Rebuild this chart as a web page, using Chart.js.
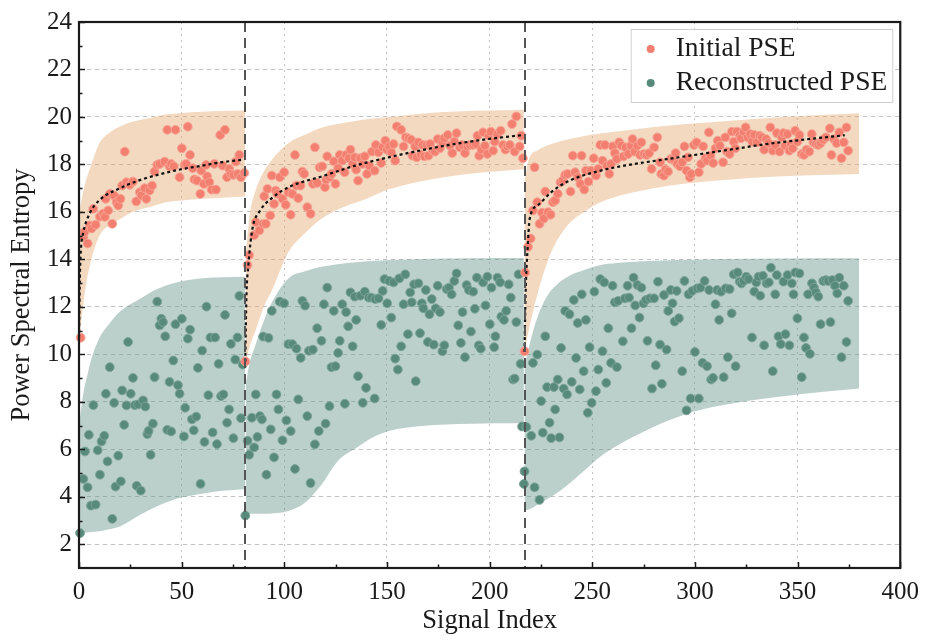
<!DOCTYPE html>
<html><head><meta charset="utf-8">
<script src="https://cdn.jsdelivr.net/npm/chart.js@4.4.1/dist/chart.umd.min.js"></script>
<style>html,body{margin:0;padding:0;background:#fff}#wrap{width:928px;height:640px}</style>
</head><body><div id="wrap"><canvas id="c" width="928" height="640"></canvas></div>
<script>
const FONT = "'Liberation Serif','Times New Roman',serif";
const xTicks = [0,50,100,150,200,250,300,350,400];
const yTicks = [2,4,6,8,10,12,14,16,18,20,22,24];
const xMinor = [25,75,125,175,225,275,325,375];
const yMinor = [3,5,7,9,11,13,15,17,19,21,23];
const separators = [81, 217];
const seriesNames = ['Initial PSE','Reconstructed PSE'];
const xTitle = 'Signal Index';
const yTitle = 'Power Spectral Entropy';

// [signal index, PSE]
const initialSeg1 = [[0.8,10.7],[2.1,14.95],[2.6,15.15],[4.2,14.67],[5.3,15.43],[6.1,15.3],[6.9,16.13],[8.1,15.46],[10.2,15.8],[11.8,15.93],[12.6,15.79],[13,16.55],[14.2,16.06],[15,16.76],[16.2,15.5],[17.1,16.69],[18.3,16.41],[19.1,16.27],[20.2,16.55],[21,17.11],[22.3,18.54],[23.1,17.25],[24.7,17.14],[26.3,17.28],[27.9,16.44],[29.6,16.83],[30.4,16.69],[32,17.0],[32.8,16.55],[34.4,16.9],[35.6,17.11],[36.8,17.7],[38.1,17.98],[39.3,18.02],[41.7,18.12],[43,19.46],[44.1,17.92],[44.9,18.02],[46.2,17.92],[47,19.46],[49,17.46],[50.1,18.68],[51.4,17.98],[52.2,18.02],[53,19.59],[54.1,18.4],[55.4,17.84],[56.2,17.37],[57.5,17.32],[59.1,16.76],[59.5,17.74],[60.8,17.18],[61.9,17.98],[62.4,17.5],[63.5,17.25],[64.6,16.94],[65.9,18.02],[66.7,16.94],[68.8,19.24],[70,17.95],[71.1,19.46],[72.1,17.46],[73.2,17.81],[74,17.6],[75.3,17.56],[76.4,18.12],[77.3,17.6],[78.1,18.4],[78.9,17.46],[80.5,17.64]];
const initialSeg2 = [[81,9.7],[82.1,13.76],[82.9,14.18],[85.3,15.02],[86.1,15.57],[87.8,15.22],[89.7,15.5],[90.2,16.66],[91,15.5],[91.8,16.97],[93.1,15.85],[93.9,17.53],[95,16.34],[95.8,16.9],[96.6,16.76],[97.8,17.46],[99.1,16.55],[99.9,17.67],[100.7,16.3],[102,16.83],[103.1,15.88],[103.9,16.76],[105.2,18.4],[105.9,17.11],[106.8,16.58],[107.9,17.11],[108.8,17.7],[109.7,17.6],[111.2,16.2],[112.8,15.92],[113.9,17.18],[114.9,18.72],[116,17.22],[117.2,17.88],[118.5,17.92],[119.8,17.04],[120.4,17.36],[120.9,18.34],[122,17.46],[123,17.6],[124.1,18.13],[124.9,17.18],[126.2,17.84],[127,18.4],[128.2,18.16],[129.4,17.67],[130.1,18.4],[131.4,18.26],[132.2,18.62],[133.3,18.02],[134.3,18.3],[135,17.78],[135.9,17.32],[137,18.26],[138.2,18.02],[139.2,18.34],[140.3,17.6],[141.4,17.95],[142.7,18.54],[144,17.74],[144.6,18.82],[145.9,18.51],[147.2,18.06],[147.9,18.72],[149.2,19.0],[150,18.62],[151.1,18.76],[152.1,18.51],[153.2,18.86],[154,18.16],[154.8,19.6],[156.9,19.46],[158.1,18.76],[159.2,19.14],[160.5,19.1],[161.8,19.04],[162.4,18.37],[163.7,18.76],[164.5,18.3],[165.3,18.93],[166.6,18.4],[167.3,18.82],[168.2,18.34],[169.4,18.82],[170.2,18.37],[171,18.86],[172.3,18.58],[173.4,18.54],[174.7,19.07],[175.8,18.68],[177,18.93],[177.9,19.1],[179.6,19.24],[180.7,18.79],[181.8,18.48],[182.8,18.96],[183.9,19.32],[185.5,18.72],[186.7,18.82],[188,18.48],[189.2,18.76],[190.4,18.82],[192,18.82],[193.1,18.86],[194.1,19.21],[194.9,18.37],[196,18.62],[196.8,19.35],[197.7,18.79],[198.9,18.44],[199.6,19.21],[200.6,19.38],[201.7,18.58],[202.5,18.96],[203.8,19.28],[205.4,19.42],[206.5,18.82],[207.7,18.62],[208.6,18.76],[209.8,18.82],[210.9,19.7],[212.2,18.54],[213,20.02],[214.6,18.76],[215.4,19.21],[216.2,18.26]];
const initialSeg3 = [[217,10.13],[217.3,13.45],[218.7,14.53],[220,14.88],[221.1,16.06],[221.9,17.88],[223.2,16.41],[224.3,15.5],[225.5,15.97],[226.4,15.72],[227.1,16.86],[228.4,15.99],[229.7,15.88],[230.8,16.41],[231.9,16.48],[233.2,16.76],[234.5,17.25],[235.6,17.32],[236.8,17.56],[238,17.6],[239.4,16.86],[240.5,18.37],[241.6,17.67],[242.9,17.46],[244.2,17.18],[244.8,18.37],[246.1,16.94],[246.9,17.74],[248.1,17.28],[249.4,17.74],[250.7,18.26],[251.8,17.53],[252.9,17.81],[253.9,18.82],[255,18.16],[256.2,18.82],[257.1,17.95],[258.3,17.6],[259.1,18.02],[260,18.76],[261,18.48],[262,18.23],[263.1,18.93],[264.2,18.79],[265.2,18.34],[266.3,18.72],[267.5,18.44],[268.8,18.79],[269.6,19.07],[270.7,18.54],[272,18.79],[273.3,18.4],[273.9,18.93],[275.2,18.44],[276.5,18.4],[277.7,18.48],[278.9,17.81],[280.1,18.72],[281.7,19.14],[283,18.09],[283.6,17.6],[284.9,17.53],[285.7,17.78],[286.9,17.7],[288.2,18.23],[289.5,18.23],[290.6,18.48],[291.4,18.02],[292.7,17.92],[293.8,18.09],[294.9,18.76],[295.9,17.74],[296.6,18.3],[297.5,17.46],[298.2,17.6],[299.5,18.82],[300.8,18.93],[301.9,17.67],[303,18.02],[304,18.76],[305.1,18.26],[305.9,18.16],[306.8,19.35],[307.6,18.37],[308.9,18.06],[310,18.68],[311.1,19.0],[312.1,18.79],[313.7,18.09],[314.8,19.14],[315.6,18.54],[316.9,18.44],[318,19.38],[318.9,18.96],[319.7,18.68],[320.5,19.38],[321.8,19.21],[322.4,19.1],[323.7,19.38],[324.7,19.56],[325.7,19.14],[326.9,19.28],[327.9,18.96],[328.9,19.24],[330.2,18.93],[331.5,19.21],[332.6,19.14],[333.7,18.62],[334.7,19.07],[335.8,18.9],[336.7,19.56],[337.9,18.58],[339.1,18.82],[339.9,19.32],[341.2,18.54],[342.3,19.14],[343.1,19.32],[343.9,18.79],[345.1,19.28],[346,18.58],[346.7,18.86],[347.6,18.68],[348.8,19.42],[349.9,18.96],[350.9,19.24],[352,18.44],[353.1,18.4],[354.4,18.62],[355.7,18.54],[356.9,19.28],[357.7,18.93],[358.9,18.86],[360.1,18.82],[361.2,18.9],[362.5,19.04],[363.8,19.14],[365.7,19.52],[366.5,18.4],[367.7,19.07],[369,18.9],[370.3,19.35],[371.4,18.26],[372.5,18.93],[373.8,19.56],[374.6,18.58]];

const reconSeg1 = [[0.5,2.47],[2.1,4.75],[2.9,5.91],[4.2,4.4],[4.8,6.61],[5.8,3.63],[7,7.86],[8.1,3.67],[9.1,5.96],[10.2,4.93],[11,6.33],[12.3,6.57],[13.1,8.34],[13.9,5.49],[15,9.46],[16.2,3.07],[17.1,7.96],[17.8,4.43],[19.1,5.73],[20.4,4.65],[21,8.48],[22,7.03],[23.1,7.85],[23.9,10.52],[25.2,8.34],[26.3,9.01],[27.2,7.86],[28.1,4.46],[28.8,7.89],[30.1,4.26],[31.2,8.06],[32.3,7.8],[33.3,6.64],[33.9,6.78],[34.9,5.77],[36,7.08],[36.8,9.04],[38.1,12.22],[39.3,11.22],[40.1,11.5],[40.9,11.36],[42,10.76],[43,6.82],[44.1,8.84],[44.9,6.75],[45.9,9.74],[47,11.27],[48.2,8.7],[49,8.34],[50.1,11.5],[51.1,6.54],[51.7,7.75],[53,10.66],[54.1,11.04],[55,7.26],[55.9,6.8],[57.1,7.38],[57.9,9.43],[59.2,4.54],[60,10.16],[61.1,6.31],[62.1,12.01],[63,8.28],[64,10.71],[65.1,6.71],[66.3,10.71],[67.2,6.22],[68,9.6],[69.2,8.24],[70.3,8.31],[71.1,11.66],[72.1,7.12],[73.1,7.68],[74,10.44],[75.2,6.47],[76.1,9.78],[77.2,10.71],[78.1,12.46],[78.9,7.31],[79.7,9.57]];
const reconSeg2 = [[81,3.21],[82.1,6.36],[82.9,5.77],[84.2,7.33],[85.3,6.08],[86.1,8.31],[86.9,6.52],[88.1,7.4],[89.1,7.26],[89.7,10.75],[91.3,4.93],[92.3,10.69],[93.4,6.84],[93.9,11.83],[95,5.66],[96.2,8.31],[97.1,7.68],[97.8,12.22],[99.1,6.38],[99.9,12.15],[101,7.22],[102,10.43],[103.1,6.77],[103.9,10.43],[105.2,5.17],[105.9,10.24],[106.8,8.1],[108,9.85],[108.8,12.25],[110.1,12.05],[111.2,7.4],[112,10.15],[112.8,4.58],[113.9,10.2],[114.9,6.21],[116,11.1],[116.8,6.77],[118.1,10.57],[119.3,12.11],[120.1,7.08],[120.9,12.81],[122,7.82],[123,9.46],[124.1,11.83],[124.9,9.5],[126.2,10.06],[127,10.57],[128.2,12.11],[129.5,7.92],[130.1,11.78],[131.1,11.18],[132.2,12.61],[133.3,10.34],[134.3,12.43],[135,11.45],[135.9,9.08],[137,12.47],[138.2,7.96],[139.2,12.64],[139.8,8.59],[141.1,12.39],[142.4,12.39],[144,8.14],[144.3,12.33],[145.9,12.36],[147.2,11.24],[147.9,12.67],[148.8,13.17],[150.1,12.15],[151.1,13.09],[152.1,11.55],[153.2,13.03],[154,9.82],[155.3,9.36],[156,13.2],[156.9,10.34],[158.1,12.11],[158.9,13.37],[160.2,10.85],[161.3,12.61],[162.1,12.19],[163.2,12.95],[164,8.87],[165.3,12.99],[166.1,10.89],[167,12.15],[167.7,11.94],[168.9,12.71],[169.9,10.52],[170.7,11.69],[171.8,12.33],[172.8,10.41],[173.7,11.94],[174.7,12.89],[175.8,11.78],[177,10.13],[177.9,10.38],[179.1,12.75],[180.2,12.81],[181.5,12.53],[182.8,13.09],[183.9,13.41],[184.7,11.22],[186,10.48],[186.8,11.78],[188,9.88],[188.8,12.92],[189.9,12.71],[190.9,10.96],[192,12.64],[192.8,11.92],[193.8,13.23],[194.7,10.38],[195.7,10.24],[196.8,13.03],[198,12.06],[198.9,13.27],[200.1,11.27],[200.9,12.81],[202.2,10.3],[202.8,10.76],[203.8,13.23],[205.1,13.03],[205.7,11.59],[207,11.45],[208.1,11.83],[209.3,12.95],[210.3,12.39],[211.4,8.94],[212.2,8.98],[213,11.36],[214.1,13.37],[215.1,9.6],[215.8,6.96]];
const reconSeg3 = [[216.7,4.54],[217,5.07],[217.9,6.94],[220.3,6.57],[221.1,9.64],[221.9,4.4],[223.2,9.99],[224.3,3.87],[225.1,8.03],[225.9,6.7],[227.1,10.76],[228,8.62],[229.2,7.12],[230,6.47],[231.3,8.62],[231.9,7.68],[233.2,8.94],[234,6.5],[234.8,10.27],[236.1,8.56],[236.8,11.83],[237.7,8.31],[238.9,11.69],[240,8.84],[241,12.29],[242.1,9.85],[242.9,11.32],[243.9,8.52],[244.9,12.53],[245.8,9.29],[246.9,11.45],[247.8,7.54],[248.7,10.3],[249.7,7.96],[251,12.64],[251.8,8.45],[252.9,9.36],[253.9,13.17],[255,10.13],[255.8,13.03],[256.8,8.8],[257.8,11.1],[259.1,9.64],[259.9,12.89],[261,12.19],[262,9.46],[262.6,12.25],[264.9,10.55],[265.9,12.36],[267.2,12.89],[267.9,12.39],[269.1,11.1],[270.1,13.23],[270.9,12.06],[272,12.92],[273,11.55],[273.9,12.81],[274.9,12.15],[276.1,12.29],[276.9,10.57],[278.1,12.36],[279.1,8.56],[280.1,12.36],[280.9,9.54],[282,13.06],[283,10.41],[283.9,8.76],[284.9,12.5],[286.2,10.2],[287,11.83],[288.2,12.71],[289.1,12.15],[290.1,11.38],[291.1,12.67],[292.2,11.52],[293.8,9.29],[294.9,13.09],[295.9,7.64],[296.9,12.53],[297.9,8.14],[298.7,12.67],[300,10.1],[301.1,12.78],[301.9,8.14],[302.7,12.81],[303.7,9.64],[304.7,13.09],[305.9,9.5],[306.9,12.71],[307.9,8.94],[308.8,9.01],[310,12.11],[310.8,12.71],[311.8,11.45],[312.7,12.64],[314,9.04],[315,12.78],[316,9.88],[316.9,12.75],[317.9,11.73],[318.9,13.37],[319.8,9.5],[320.8,13.45],[321.8,13.06],[322.7,12.99],[323.7,13.09],[325,13.27],[326.1,13.17],[327.8,10.71],[328.9,12.64],[329.9,13.03],[331,13.27],[331.8,12.47],[333.1,13.31],[333.7,10.38],[334.9,12.99],[336,13.03],[337,13.65],[337.9,9.29],[339.1,12.53],[339.9,13.34],[340.7,10.76],[341.8,10.43],[343.1,13.06],[344.1,10.85],[345.1,13.34],[346,10.38],[347.2,12.99],[348,12.53],[348.9,13.45],[349.9,11.52],[350.9,13.41],[352,9.04],[353.1,10.71],[354.1,10.27],[355.1,12.53],[356,10.02],[357,12.99],[358,12.81],[358.9,12.61],[360.1,12.43],[361.2,11.27],[362.5,13.09],[363.8,13.13],[364.9,13.09],[366,11.36],[367,13.13],[368.2,12.89],[369.3,12.57],[370.3,13.23],[371.4,9.88],[372.5,12.89],[373.8,10.52],[374.6,12.25]];

// fitted trend (dotted), per segment
const trend1X = [0,0.5,1,2,5,10,20,30,40,50,60,70,80];
const trend1Y = [10.7,13.5,14.5,15.1,15.9,16.5,17.0,17.35,17.6,17.8,17.95,18.1,18.2];
const trend2X = [81,81.5,82.5,84.5,87.8,94.2,102.3,118.4,134.6,150.8,166.9,183,199.3,215.4];
const trend2Y = [9.7,12.3,13.76,15.3,16.0,16.6,17.05,17.5,17.95,18.3,18.6,18.86,19.07,19.23];
const trend3X = [217,217.5,218.5,219.5,223.5,230,238,254,270.6,286.8,302.9,319,335,351.4,373];
const trend3Y = [10.1,12.5,14.46,15.7,16.28,16.83,17.28,17.74,18.02,18.23,18.44,18.65,18.86,19.03,19.23];

// Initial PSE envelope
const bandI1X = [0,1,3,6,10,15,20,26,34,42,50,60,70,81];
const bandI1Hi = [15.8,16.4,17.2,18.0,18.9,19.35,19.6,19.8,19.95,20.1,20.17,20.22,20.25,20.27];
const bandI1Lo = [10.6,11.3,12.7,14.0,15.0,15.45,15.7,16.0,16.2,16.4,16.48,16.55,16.6,16.65];
const bandI2X = [81.3,83,86,90,94,102,110,118,126,140,151,172,195,216.7];
const bandI2Hi = [14.3,15.8,16.9,17.7,18.2,18.9,19.25,19.55,19.7,19.9,20.0,20.18,20.26,20.3];
const bandI2Lo = [9.7,10.3,11.0,12.0,12.7,14.3,15.1,15.7,16.1,16.55,16.95,17.38,17.65,17.8];
const bandI3X = [217,219,223.5,230,238,246,254,278,311,343,380];
const bandI3Hi = [17.3,18.2,18.6,18.86,19.05,19.2,19.3,19.56,19.8,20.0,20.16];
const bandI3Lo = [10.1,11.0,12.6,14.3,15.44,16.0,16.41,16.97,17.32,17.5,17.6];
// Reconstructed PSE envelope
const bandR1X = [0,2,4,6,10,14,20,30,38,46,55,63,70,81];
const bandR1Hi = [7.0,8.3,9.1,9.8,10.7,11.2,11.8,12.35,12.75,13.0,13.15,13.23,13.25,13.27];
const bandR1Lo = [2.45,2.47,2.5,2.52,2.55,2.62,2.75,3.25,3.6,3.88,4.05,4.17,4.25,4.33];
const bandR2X = [81.3,83,86,90,94,102,110,118,126,135,143,151,167,191,216.7];
const bandR2Hi = [8.8,9.6,10.4,11.4,12.2,13.2,13.5,13.69,13.8,13.88,13.93,13.97,14.02,14.05,14.06];
const bandR2Lo = [3.28,3.28,3.28,3.29,3.3,3.4,3.75,4.5,5.5,6.05,6.5,6.77,6.98,7.08,7.1];
const bandR3X = [217,220,223,227,230,238,246,254,262,279,295,311,343,380];
const bandR3Hi = [9.5,10.6,11.5,12.3,12.7,13.27,13.55,13.76,13.85,13.93,13.98,14.02,14.04,14.05];
const bandR3Lo = [3.42,3.5,3.65,3.85,4.0,4.5,5.1,5.7,6.15,6.91,7.47,7.82,8.24,8.56];

const COL_INIT = 'rgb(242,127,111)';
const COL_INIT_EDGE = 'rgb(248,165,150)';
const COL_REC = 'rgb(87,138,122)';
const COL_REC_EDGE = 'rgb(125,165,152)';
const BAND_INIT = 'rgba(228,171,115,0.45)';
const BAND_REC = 'rgba(106,151,139,0.45)';

const toPts = a => a.map(p => ({x: p[0], y: p[1]}));
const zip = (xs, ys) => xs.map((x, i) => ({x, y: ys[i]}));

const datasets = [];
datasets.push({type:'scatter', label: seriesNames[0], data: toPts([...initialSeg1, ...initialSeg2, ...initialSeg3]),
  backgroundColor: COL_INIT, borderColor: COL_INIT_EDGE, borderWidth: 1, pointRadius: 4.4, order: 1, clip: false});
datasets.push({type:'scatter', label: seriesNames[1], data: toPts([...reconSeg1, ...reconSeg2, ...reconSeg3]),
  backgroundColor: COL_REC, borderColor: COL_REC_EDGE, borderWidth: 1, pointRadius: 4.4, order: 1, clip: false});
[[trend1X,trend1Y],[trend2X,trend2Y],[trend3X,trend3Y]].forEach(([xs,ys]) => {
  datasets.push({type:'line', label:'trend', data: zip(xs,ys), borderColor:'#111', borderWidth:2.2, borderDash:[3,3],
    pointRadius:0, fill:false, cubicInterpolationMode:'monotone', order:0});
});
function addBand(xs, hi, lo, color, order){
  const loIdx = datasets.length + 1;
  datasets.push({type:'line', label:'band', data: zip(xs,hi), borderWidth:0, borderColor:'rgba(0,0,0,0)', backgroundColor: color,
    pointRadius:0, fill: loIdx, cubicInterpolationMode:'monotone', order});
  datasets.push({type:'line', label:'band', data: zip(xs,lo), borderWidth:0, borderColor:'rgba(0,0,0,0)',
    pointRadius:0, fill:false, cubicInterpolationMode:'monotone', order});
}
addBand(bandI1X, bandI1Hi, bandI1Lo, BAND_INIT, 2);
addBand(bandI2X, bandI2Hi, bandI2Lo, BAND_INIT, 2);
addBand(bandI3X, bandI3Hi, bandI3Lo, BAND_INIT, 2);
addBand(bandR1X, bandR1Hi, bandR1Lo, BAND_REC, 3);
addBand(bandR2X, bandR2Hi, bandR2Lo, BAND_REC, 3);
addBand(bandR3X, bandR3Hi, bandR3Lo, BAND_REC, 3);

const decor = {
  id: 'decor',
  beforeDraw(chart){
    const {ctx, width, height} = chart;
    ctx.save(); ctx.fillStyle = '#fff'; ctx.fillRect(0,0,width,height); ctx.restore();
  },
  afterDatasetsDraw(chart){
    const {ctx, chartArea: a, scales: {x, y}} = chart;
    ctx.save();
    ctx.strokeStyle = '#555'; ctx.lineWidth = 2; ctx.setLineDash([10,6]);
    separators.forEach(v => {
      const px = Math.round(x.getPixelForValue(v));
      ctx.beginPath(); ctx.moveTo(px, a.top); ctx.lineTo(px, a.bottom); ctx.stroke();
    });
    ctx.setLineDash([]);
    ctx.strokeStyle = '#1a1a1a'; ctx.lineWidth = 1.5;
    const tickX = (vals, len) => vals.forEach(v => { const px = Math.round(x.getPixelForValue(v)) + 0.5;
      ctx.beginPath(); ctx.moveTo(px, a.bottom); ctx.lineTo(px, a.bottom - len); ctx.stroke(); });
    const tickY = (vals, len) => vals.forEach(v => { const py = Math.round(y.getPixelForValue(v)) + 0.5;
      ctx.beginPath(); ctx.moveTo(a.left, py); ctx.lineTo(a.left + len, py); ctx.stroke(); });
    tickX(xTicks, 6); tickX(xMinor, 3.5); tickY(yTicks, 6); tickY(yMinor, 3.5);
    ctx.lineWidth = 2.2;
    ctx.strokeRect(a.left, a.top, a.right - a.left, a.bottom - a.top);
    ctx.restore();
  },
  afterDraw(chart){
    const {ctx, chartArea: a} = chart;
    ctx.save();
    ctx.font = '27.5px ' + FONT;
    const tw = Math.max(...seriesNames.map(s => ctx.measureText(s).width));
    const w = 45 + tw + 6, h = 74;
    const left = a.right - 7 - w, top = a.top + 7;
    ctx.fillStyle = '#fff'; ctx.fillRect(left, top, w, h);
    ctx.strokeStyle = '#cfcfcf'; ctx.lineWidth = 1; ctx.strokeRect(left + 0.5, top + 0.5, w - 1, h - 1);
    const cols = [COL_INIT, COL_REC];
    seriesNames.forEach((s, i) => {
      const cy = top + 20 + i * 34;
      ctx.beginPath(); ctx.arc(left + 20, cy, 4, 0, Math.PI * 2); ctx.fillStyle = cols[i]; ctx.fill();
      ctx.fillStyle = '#1a1a1a'; ctx.textBaseline = 'middle'; ctx.textAlign = 'left';
      ctx.fillText(s, left + 45, cy);
    });
    ctx.restore();
  }
};

new Chart(document.getElementById('c'), {
  type: 'scatter',
  data: { datasets },
  options: {
    responsive: false, animation: false, devicePixelRatio: 1,
    layout: { padding: { top: 19, right: 24, bottom: 0, left: 0 } },
    plugins: { legend: { display: false }, tooltip: { enabled: false } },
    scales: {
      x: {
        type: 'linear', min: 0, max: 400,
        afterBuildTicks: s => { s.ticks = xTicks.map(v => ({value: v})); },
        afterFit: s => { s.height = 72; },
        ticks: { font: { family: FONT, size: 25 }, color: '#1a1a1a', padding: 9, maxRotation: 0 },
        grid: { color: '#c2c2c2', lineWidth: 1, drawTicks: false },
        border: { display: false, dash: [2,4] },
        title: { display: true, text: xTitle, font: { family: FONT, size: 26.5 }, color: '#1a1a1a', padding: { top: 0, bottom: 3 } }
      },
      y: {
        type: 'linear', min: 1, max: 24,
        afterBuildTicks: s => { s.ticks = yTicks.map(v => ({value: v})); },
        afterFit: s => { s.width = 79; },
        ticks: { font: { family: FONT, size: 25 }, color: '#1a1a1a', padding: 7 },
        grid: { color: '#c2c2c2', lineWidth: 1, drawTicks: false },
        border: { display: false, dash: [4,4] },
        title: { display: true, text: yTitle, font: { family: FONT, size: 26.5 }, color: '#1a1a1a', padding: { top: 6, bottom: 0 } }
      }
    }
  },
  plugins: [decor]
});
</script></body></html>
